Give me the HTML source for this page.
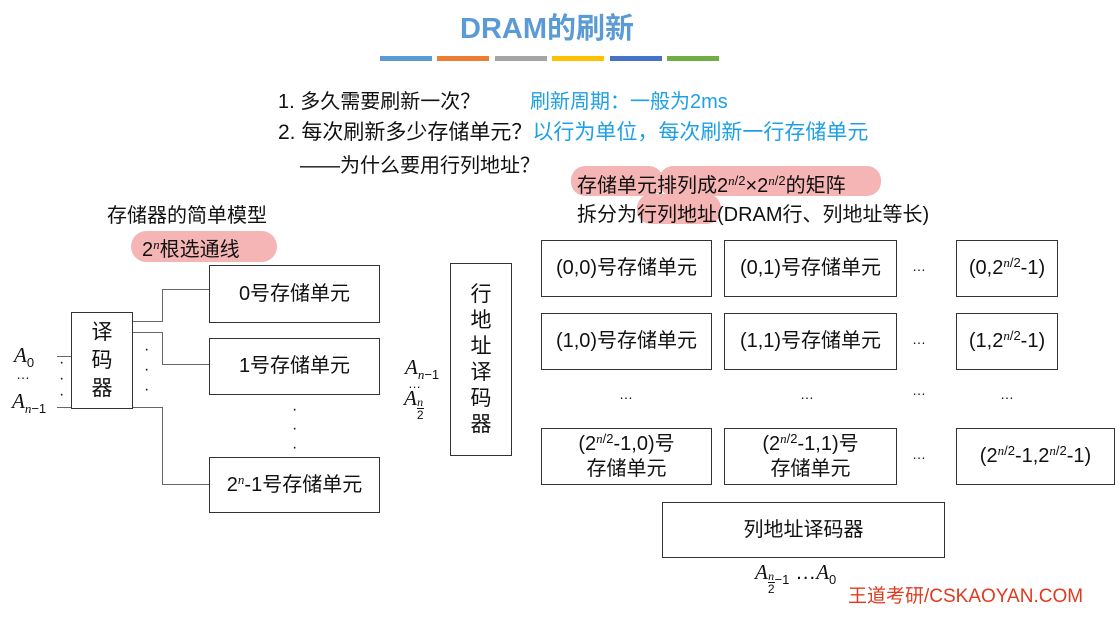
<!DOCTYPE html>
<html><head><meta charset="utf-8"><style>
body{margin:0;width:1120px;height:628px;background:#fff;position:relative;overflow:hidden;font-family:"Liberation Sans","Noto Sans CJK SC",sans-serif;color:#111}
.a{position:absolute;white-space:nowrap}
.b{position:absolute;border:1.5px solid #333;box-sizing:border-box;display:flex;align-items:center;justify-content:center;text-align:center;font-size:20px;line-height:25px;background:#fff}
.p{position:absolute;background:#f5b5b5;border-radius:14px}
.l{position:absolute;background:#666}
i{font-family:"Liberation Serif",serif}
sup{font-size:13px;vertical-align:7px;line-height:0}
.bar{position:absolute;top:56px;height:5px;width:52px}
.fr{display:inline-block;vertical-align:-14px;text-align:center;font-size:12px;line-height:12px}
.fr span{display:block}
</style></head><body>
<div class="a" style="left:460px;top:5px;font-size:29px;font-weight:bold;color:#5b9bd5">DRAM的刷新</div>
<div class="bar" style="left:380px;background:#5b9bd5"></div>
<div class="bar" style="left:437px;background:#ed7d31"></div>
<div class="bar" style="left:495px;background:#a5a5a5"></div>
<div class="bar" style="left:552px;background:#ffc000"></div>
<div class="bar" style="left:610px;background:#4472c4"></div>
<div class="bar" style="left:667px;background:#70ad47"></div>

<div class="a" style="left:278px;top:85px;font-size:20px">1. 多久需要刷新一次？</div>
<div class="a" style="left:530px;top:85px;font-size:20px;color:#1ea0e6">刷新周期：一般为2ms</div>
<div class="a" style="left:278px;top:116px;font-size:21px">2. 每次刷新多少存储单元？<span style="color:#1ea0e6">以行为单位，每次刷新一行存储单元</span></div>
<div class="a" style="left:300px;top:149px;font-size:20px">——为什么要用行列地址？</div>

<div class="p" style="left:571px;top:166px;width:92px;height:30px"></div>
<div class="p" style="left:659px;top:166px;width:222px;height:30px"></div>
<div class="p" style="left:637px;top:194px;width:84px;height:30px"></div>
<div class="a" style="left:577px;top:169px;font-size:20px">存储单元排列成2<sup><i>n</i>/2</sup>×2<sup><i>n</i>/2</sup>的矩阵</div>
<div class="a" style="left:577px;top:198px;font-size:20px">拆分为行列地址(DRAM行、列地址等长)</div>

<div class="a" style="left:107px;top:199px;font-size:20px">存储器的简单模型</div>
<div class="p" style="left:131px;top:231px;width:146px;height:31px;border-radius:16px"></div>
<div class="a" style="left:142px;top:233px;font-size:20px">2<sup><i>n</i></sup>根选通线</div>

<div class="b" style="left:71px;top:312px;width:62px;height:97px;font-size:21px;line-height:28px"><span>译<br>码<br>器</span></div>
<div class="b" style="left:209px;top:265px;width:171px;height:58px"><span>0号存储单元</span></div>
<div class="b" style="left:209px;top:338px;width:171px;height:57px"><span>1号存储单元</span></div>
<div class="b" style="left:209px;top:457px;width:171px;height:56px"><span>2<sup><i>n</i></sup>-1号存储单元</span></div>
<div class="l" style="left:133px;top:321px;width:29px;height:1px"></div>
<div class="l" style="left:162px;top:289px;width:1px;height:33px"></div>
<div class="l" style="left:162px;top:289px;width:47px;height:1px"></div>
<div class="l" style="left:133px;top:332px;width:29px;height:1px"></div>
<div class="l" style="left:162px;top:332px;width:1px;height:32px"></div>
<div class="l" style="left:162px;top:364px;width:47px;height:1px"></div>
<div class="l" style="left:133px;top:407px;width:29px;height:1px"></div>
<div class="l" style="left:162px;top:407px;width:1px;height:77px"></div>
<div class="l" style="left:162px;top:484px;width:47px;height:1px"></div>
<div class="l" style="left:57px;top:356px;width:14px;height:1px"></div>
<div class="l" style="left:57px;top:407px;width:14px;height:1px"></div>
<div class="a" style="left:59px;top:355px;font-size:16px;line-height:16px">·<br>·<br>·</div>
<div class="a" style="left:144px;top:340px;font-size:16px;line-height:20px">·<br>·<br>·</div>
<div class="a" style="left:292px;top:400px;font-size:16px;line-height:19px">·<br>·<br>·</div>
<div class="a" style="left:14px;top:343px;font-size:21px"><i>A</i><sub style="font-size:13px">0</sub></div>
<div class="a" style="left:16px;top:366px;font-size:14px">…</div>
<div class="a" style="left:12px;top:389px;font-size:21px"><i>A</i><sub style="font-size:13px"><i>n</i>−1</sub></div>

<div class="b" style="left:450px;top:263px;width:62px;height:193px;font-size:21px;line-height:26px"><span>行<br>地<br>址<br>译<br>码<br>器</span></div>
<div class="a" style="left:405px;top:355px;font-size:21px"><i>A</i><sub style="font-size:13px"><i>n</i>−1</sub></div>
<div class="a" style="left:408px;top:376px;font-size:13px">…</div>
<div class="a" style="left:404px;top:386px;font-size:21px"><i>A</i><span class="fr"><span><i>n</i></span><span style="border-top:1px solid #111">2</span></span></div>

<div class="b" style="left:541px;top:240px;width:171px;height:57px"><span>(0,0)号存储单元</span></div>
<div class="b" style="left:724px;top:240px;width:173px;height:57px"><span>(0,1)号存储单元</span></div>
<div class="b" style="left:956px;top:240px;width:102px;height:57px"><span>(0,2<sup><i>n</i>/2</sup>-1)</span></div>
<div class="b" style="left:541px;top:313px;width:171px;height:57px"><span>(1,0)号存储单元</span></div>
<div class="b" style="left:724px;top:313px;width:173px;height:57px"><span>(1,1)号存储单元</span></div>
<div class="b" style="left:956px;top:313px;width:102px;height:57px"><span>(1,2<sup><i>n</i>/2</sup>-1)</span></div>
<div class="b" style="left:541px;top:428px;width:171px;height:57px"><span>(2<sup><i>n</i>/2</sup>-1,0)号<br>存储单元</span></div>
<div class="b" style="left:724px;top:428px;width:173px;height:57px"><span>(2<sup><i>n</i>/2</sup>-1,1)号<br>存储单元</span></div>
<div class="b" style="left:956px;top:428px;width:159px;height:57px"><span>(2<sup><i>n</i>/2</sup>-1,2<sup><i>n</i>/2</sup>-1)</span></div>
<div class="a" style="left:912px;top:258px;font-size:14px">…</div>
<div class="a" style="left:912px;top:331px;font-size:14px">…</div>
<div class="a" style="left:912px;top:446px;font-size:14px">…</div>
<div class="a" style="left:619px;top:386px;font-size:14px">…</div>
<div class="a" style="left:800px;top:386px;font-size:14px">…</div>
<div class="a" style="left:912px;top:382px;font-size:14px">…</div>
<div class="a" style="left:1000px;top:386px;font-size:14px">…</div>

<div class="b" style="left:662px;top:502px;width:283px;height:56px"><span>列地址译码器</span></div>
<div class="a" style="left:755px;top:560px;font-size:21px"><i>A</i><span class="fr"><span><i>n</i></span><span style="border-top:1px solid #111">2</span></span><sub style="font-size:13px">−1</sub> …<i>A</i><sub style="font-size:13px">0</sub></div>
<div class="a" style="left:848px;top:581px;font-size:19px;color:#e03a1e">王道考研/CSKAOYAN.COM</div>
</body></html>
